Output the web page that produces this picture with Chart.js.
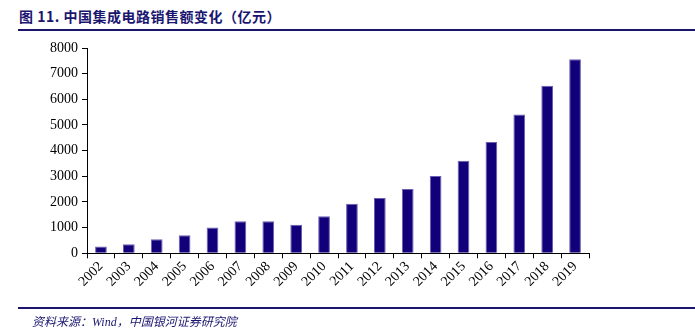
<!DOCTYPE html>
<html>
<head>
<meta charset="utf-8">
<script src="https://cdn.jsdelivr.net/npm/chart.js@4"></script>
<style>
  body { margin: 0; background: #fff; }
  #wrap { position: relative; width: 695px; height: 328px; }
  #title { position: absolute; left: 19px; top: 6px; font: bold 14px "Noto Sans CJK SC", sans-serif; color: #1a1670; letter-spacing: 0.5px; }
  .rule { position: absolute; left: 18px; right: 0; height: 2px; background: #1a1670; }
  #source { position: absolute; left: 32px; top: 312px; font: italic 12px "Liberation Serif", "Noto Sans CJK SC", serif; color: #1a1670; }
  canvas { position: absolute; left: 0; top: 0; }
</style>
</head>
<body>
<div id="wrap">
  <div id="title">图 11. 中国集成电路销售额变化（亿元）</div>
  <div class="rule" style="top:29px"></div>
  <canvas id="chart" width="695" height="328"></canvas>
  <div class="rule" style="top:307px"></div>
  <div id="source">资料来源：Wind，中国银河证券研究院</div>
</div>
<script>
const years = ["2002", "2003", "2004", "2005", "2006", "2007", "2008", "2009", "2010",
               "2011", "2012", "2013", "2014", "2015", "2016", "2017", "2018", "2019"];
const sales = [268.4, 351.4, 545.3, 702.1, 1006.3, 1251.3, 1246.8, 1109.1, 1440.2,
               1933.7, 2158.5, 2508.5, 3015.4, 3609.8, 4335.5, 5411.3, 6532, 7562.3];
const yTicks = [0, 1000, 2000, 3000, 4000, 5000, 6000, 7000, 8000];

const tickFont = { family: "'Liberation Serif', 'Times New Roman', serif", size: 14 };

new Chart(document.getElementById("chart"), {
    type: "bar",
    data: {
        labels: years,
        datasets: [
            {
                label: "销售额",
                data: sales,
                backgroundColor: "#12007a",
                borderColor: "#6a5fb0",
                borderWidth: { left: 1, right: 1, top: 1, bottom: 0 },
                barPercentage: 0.42,
                categoryPercentage: 1,
            },
        ],
    },
    options: {
        responsive: false,
        animation: false,
        layout: { padding: { left: 46, top: 48, right: 106, bottom: 38 } },
        plugins: { legend: { display: false }, tooltip: { enabled: false } },
        scales: {
            x: {
                grid: { offset: true, drawOnChartArea: false, tickLength: 5, color: "#000" },
                border: { color: "#000", width: 1 },
                ticks: { color: "#000", font: tickFont, minRotation: 45, maxRotation: 45, padding: 0, autoSkip: false },
            },
            y: {
                min: 0,
                max: 8000,
                afterBuildTicks: (axis) => { axis.ticks = yTicks.map((v) => ({ value: v })); },
                grid: { drawOnChartArea: false, tickLength: 5, color: "#000" },
                border: { color: "#000", width: 1 },
                ticks: { color: "#000", font: tickFont, padding: 4, callback: (v) => String(v) },
            },
        },
    },
});
</script>
</body>
</html>
